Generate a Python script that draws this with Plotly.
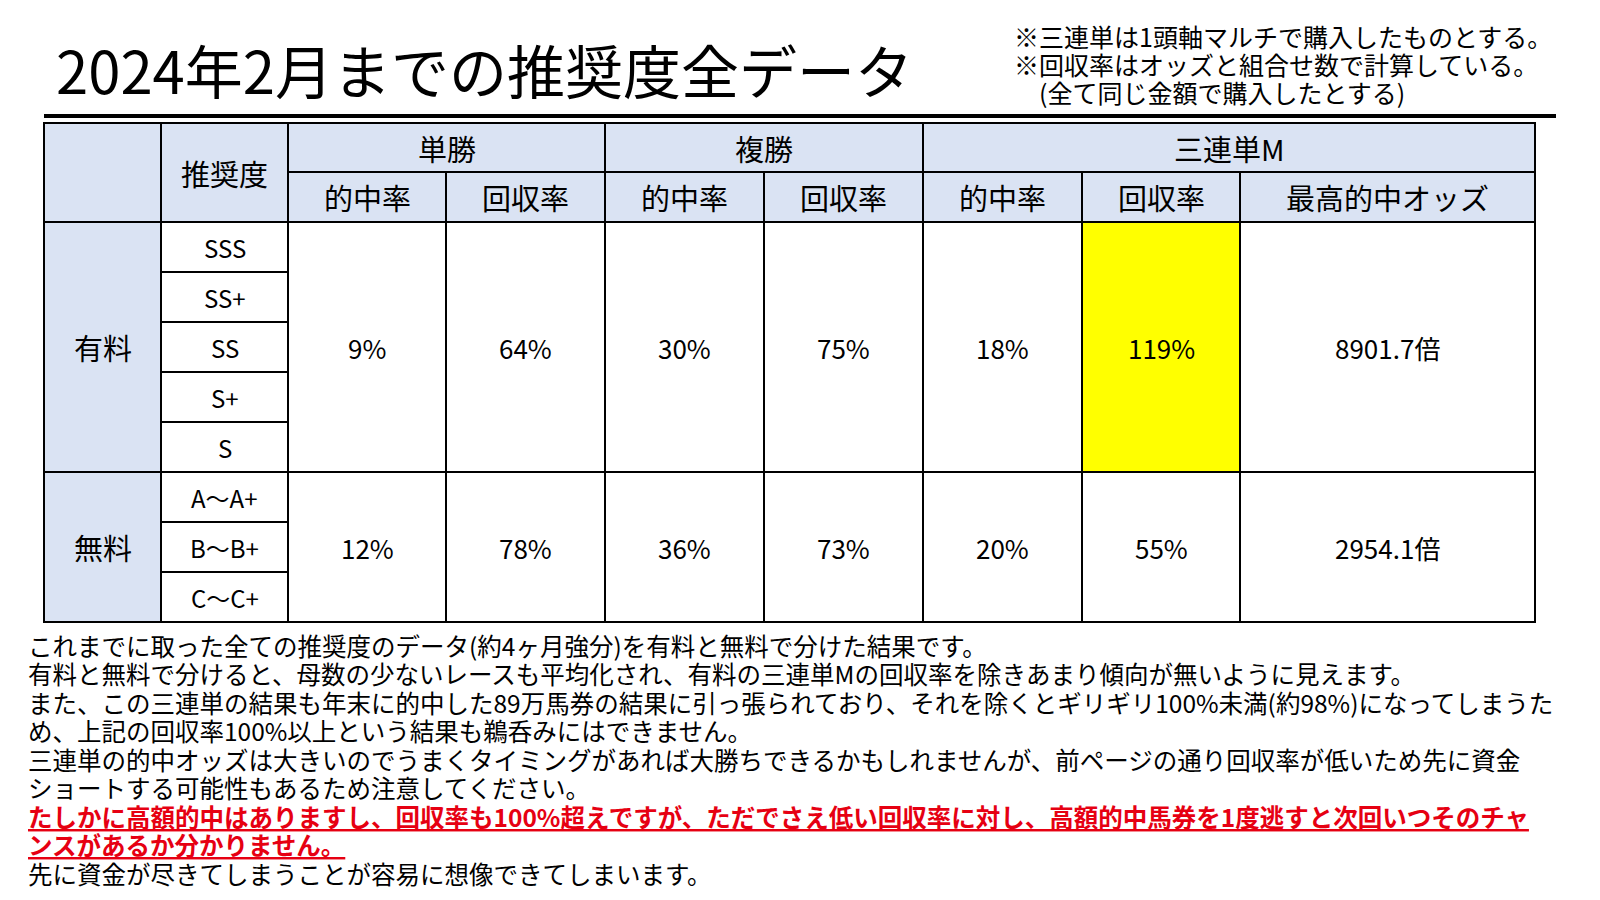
import plotly.graph_objects as go

# Table content
groups = ['有料', '無料']
grades = [['SSS', 'SS+', 'SS', 'S+', 'S'], ['A～A+', 'B～B+', 'C～C+']]
bet_types = ['単勝', '複勝', '三連単M']
sub_headers = ['的中率', '回収率', '的中率', '回収率', '的中率', '回収率', '最高的中オッズ']
win_hit = ['9%', '12%']
win_return = ['64%', '78%']
place_hit = ['30%', '36%']
place_return = ['75%', '73%']
tri_hit = ['18%', '20%']
tri_return = ['119%', '55%']
tri_max_odds = ['8901.7倍', '2954.1倍']

title = '2024年2月までの推奨度全データ'
notes = ['※三連単は1頭軸マルチで購入したものとする。',
         '※回収率はオッズと組合せ数で計算している。',
         '　(全て同じ金額で購入したとする)']
body_lines = [
    'これまでに取った全ての推奨度のデータ(約4ヶ月強分)を有料と無料で分けた結果です。',
    '有料と無料で分けると、母数の少ないレースも平均化され、有料の三連単Mの回収率を除きあまり傾向が無いように見えます。',
    'また、この三連単の結果も年末に的中した89万馬券の結果に引っ張られており、それを除くとギリギリ100%未満(約98%)になってしまうた',
    'め、上記の回収率100%以上という結果も鵜呑みにはできません。',
    '三連単の的中オッズは大きいのでうまくタイミングがあれば大勝ちできるかもしれませんが、前ページの通り回収率が低いため先に資金',
    'ショートする可能性もあるため注意してください。',
    'たしかに高額的中はありますし、回収率も100%超えですが、ただでさえ低い回収率に対し、高額的中馬券を1度逃すと次回いつそのチャ',
    'ンスがあるか分かりません。',
    '先に資金が尽きてしまうことが容易に想像できてしまいます。',
]
red_lines = [6, 7]

# Layout geometry
FONT = 'Noto Sans CJK JP'
BLUE = '#DAE3F3'
YELLOW = '#FFFF00'
RED = '#E60012'
col_x = [44, 161, 288, 446, 605, 764, 923, 1082, 1240, 1535]
row_top = 123
head_h = [49, 50]
row_h = 50
OFF = 8  # page body margin

fig = go.Figure()
shapes = []
annos = []


def cell(c0, c1, y0, y1, text, fill='white', size=25):
    shapes.append(dict(type='rect', xref='x', yref='y', x0=col_x[c0], x1=col_x[c1],
                       y0=y0, y1=y1, fillcolor=fill, line=dict(color='black', width=2),
                       layer='below'))
    if text:
        annos.append(dict(x=(col_x[c0] + col_x[c1]) / 2, y=(y0 + y1) / 2, xref='x', yref='y',
                          text=text, showarrow=False, xanchor='center', yanchor='middle',
                          font=dict(family=FONT, size=size, color='black')))


# header
h0 = row_top
h1 = h0 + head_h[0]
h2 = h1 + head_h[1]
cell(0, 1, h0, h2, '', BLUE)
cell(1, 2, h0, h2, '推奨度', BLUE, 29)
cell(2, 4, h0, h1, bet_types[0], BLUE, 29)
cell(4, 6, h0, h1, bet_types[1], BLUE, 29)
cell(6, 9, h0, h1, bet_types[2], BLUE, 29)
for i, s in enumerate(sub_headers):
    cell(2 + i, 3 + i, h1, h2, s, BLUE, 29)

# body
y = h2
for g, name in enumerate(groups):
    n = len(grades[g])
    y_end = y + n * row_h
    cell(0, 1, y, y_end, name, BLUE, 29)
    for k, gr in enumerate(grades[g]):
        cell(1, 2, y + k * row_h, y + (k + 1) * row_h, gr, 'white', 24)
    values = [win_hit[g], win_return[g], place_hit[g], place_return[g],
              tri_hit[g], tri_return[g], tri_max_odds[g]]
    for i, v in enumerate(values):
        fill = YELLOW if (g == 0 and i == 5) else 'white'
        cell(2 + i, 3 + i, y, y_end, v, fill, 26)
    y = y_end

# thick rule under the title
shapes.append(dict(type='line', xref='x', yref='y', x0=44, x1=1556, y0=116, y1=116,
                   line=dict(color='black', width=4)))

# title
annos.append(dict(x=54, y=69, xref='x', yref='y', text=title, showarrow=False,
                  xanchor='left', yanchor='middle',
                  font=dict(family=FONT, size=58, color='black')))

# notes
for i, t in enumerate(notes):
    annos.append(dict(x=1012, y=36 + i * 28, xref='x', yref='y', text=t, showarrow=False,
                      xanchor='left', yanchor='middle',
                      font=dict(family=FONT, size=25, color='black')))

# body text
for i, t in enumerate(body_lines):
    txt = f'<b><u>{t}</u></b>' if i in red_lines else t
    annos.append(dict(x=26, y=645 + i * 28.5, xref='x', yref='y', text=txt, showarrow=False,
                      xanchor='left', yanchor='middle',
                      font=dict(family=FONT, size=24.5, color=RED if i in red_lines else 'black')))

fig.update_layout(
    width=1600, height=900,
    margin=dict(l=0, r=0, t=0, b=0),
    paper_bgcolor='white', plot_bgcolor='white',
    xaxis=dict(range=[OFF, 1600 + OFF], visible=False, fixedrange=True),
    yaxis=dict(range=[900 + OFF, OFF], visible=False, fixedrange=True),
    shapes=shapes, annotations=annos, showlegend=False,
)

fig.write_html("out.html")
